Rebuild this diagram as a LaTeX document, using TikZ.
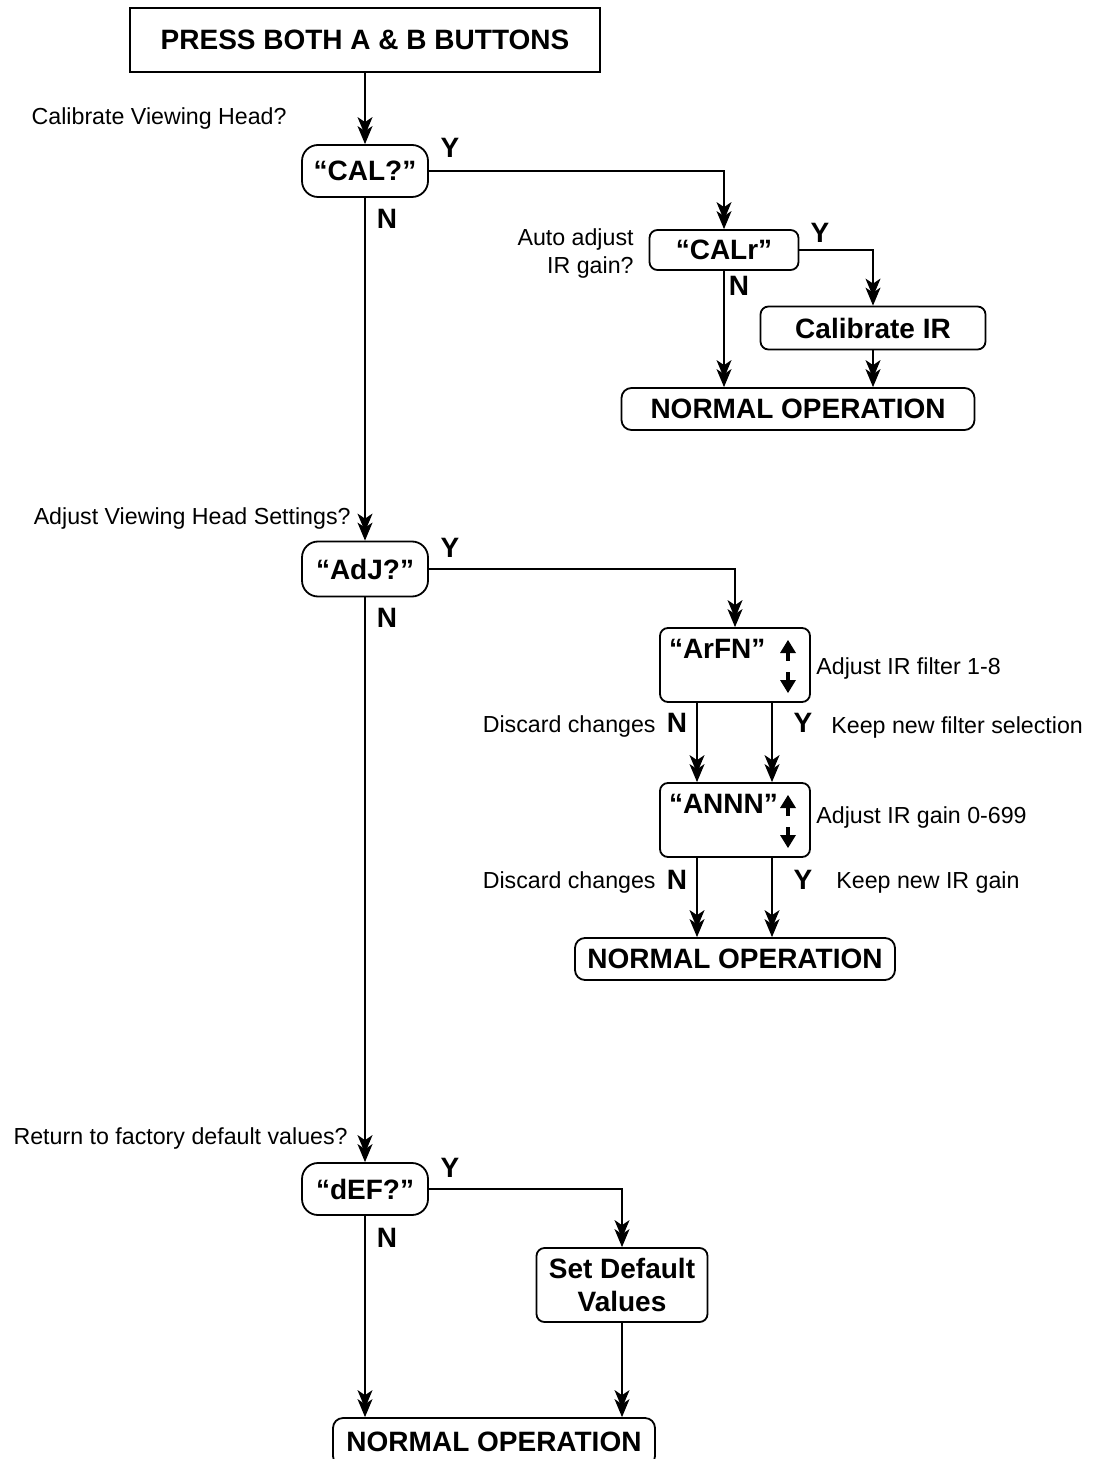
\documentclass[tikz,border=0pt]{standalone}
\usepackage{fontspec}
\setmainfont{Liberation Sans}
\usetikzlibrary{positioning, arrows.meta, calc}
\tikzset{
  >={Stealth[length=9pt,width=7.5pt,inset=2.5pt,sep=-4.5pt] Stealth[length=9pt,width=7.5pt,inset=2.5pt]},
  box/.style={draw, line width=0.9pt, rounded corners=4pt, inner sep=0pt, align=center,
    font=\fontsize{14}{16.5}\selectfont\bfseries},
  decision/.style={box, rounded corners=8pt, minimum width=63pt, minimum height=26pt},
  done/.style={box, rounded corners=5pt, minimum height=21pt},
  note/.style={inner sep=0pt, align=right, font=\fontsize{11.6}{14}\selectfont},
  yn/.style={inner sep=0pt, font=\fontsize{14}{16}\selectfont\bfseries},
  flow/.style={->, line width=0.6pt},
  shaft/.style={line width=1.6pt},
}

\begin{document}
\begin{tikzpicture}[x=0.5pt, y=-0.5pt]
  \useasboundingbox (0,0) rectangle (1092,1459);

  % start
  \node[box, rounded corners=0pt, minimum width=235pt, minimum height=32pt] (press) at (365,40) {PRESS BOTH A \& B BUTTONS};

  % calibrate branch
  \node[decision] (cal) at (365,171) {“CAL?”};
  \node[note, anchor=east] (qcal) at (287,119) {Calibrate Viewing Head?};
  \node[box, minimum width=74.5pt, minimum height=20pt] (calr) at (724,250) {“CALr”};
  \node[note, anchor=east] (qcalr) at (634,254) {Auto adjust\\IR gain?};
  \node[box, minimum width=112.5pt, minimum height=21.5pt] (calir) at (873,328) {Calibrate IR};
  \node[done, minimum width=176.5pt] (norm1) at (798,409) {NORMAL OPERATION};

  \draw[flow] (press) -- (cal);
  \draw[flow] (cal.east) -| (calr.north);
  \draw[flow] (calr.east) -| (calir.north);
  \draw[flow] (calr) -- (calr |- norm1.north);
  \draw[flow] (calir) -- (calir |- norm1.north);
  \node[yn] (ycal) at (450,148) {Y};
  \node[yn] (ncal) at (387,219) {N};
  \node[yn] (ycalr) at (820,233) {Y};
  \node[yn] (ncalr) at (739,286) {N};

  % adjust branch
  \node[decision, minimum height=27.5pt] (adj) at (365,569) {“AdJ?”};
  \node[note, anchor=east] (qadj) at (351,519) {Adjust Viewing Head Settings?};
  \node[box, minimum width=75pt, minimum height=37pt] (arfn) at (735,665) {};
  \node[box, draw=none, anchor=west] (arfntxt) at ($(arfn.north west)+(9,22)$) {“ArFN”};
  \node[note, anchor=west] (narfn) at (816,668) {Adjust IR filter 1-8};
  \node[box, minimum width=75pt, minimum height=37pt] (annn) at (735,820) {};
  \node[box, draw=none, anchor=west] (annntxt) at ($(annn.north west)+(9,22)$) {“ANNN”};
  \node[note, anchor=west] (nannn) at (816,817) {Adjust IR gain 0-699};
  \node[done, minimum width=160pt] (norm2) at (735,959) {NORMAL OPERATION};

  % up and down keys
  \foreach \t in {640,795} {
    \draw[shaft] (788,\t+8) -- (788,\t+21);
    \fill (788,\t) -- (780,\t+13) -- (796,\t+13) -- cycle;
    \draw[shaft] (788,\t+32) -- (788,\t+45);
    \fill (788,\t+53) -- (780,\t+40) -- (796,\t+40) -- cycle;
  }

  \coordinate (arn) at ($(arfn.south)+(-38,0)$);
  \coordinate (ary) at ($(arfn.south)+(37,0)$);
  \coordinate (ann) at ($(annn.south)+(-38,0)$);
  \coordinate (any) at ($(annn.south)+(37,0)$);
  \draw[flow] (cal) -- (adj);
  \draw[flow] (adj.east) -| (arfn.north);
  \draw[flow] (arn) -- (arn |- annn.north);
  \draw[flow] (ary) -- (ary |- annn.north);
  \draw[flow] (ann) -- (ann |- norm2.north);
  \draw[flow] (any) -- (any |- norm2.north);
  \node[yn] (yadj) at (450,548) {Y};
  \node[yn] (nadj) at (387,618) {N};
  \node[yn] (narf) at (677,723) {N};
  \node[yn] (yarf) at (803,723) {Y};
  \node[note, anchor=east] (darf) at (656,726) {Discard changes};
  \node[note, anchor=west] (karf) at (831,727) {Keep new filter selection};
  \node[yn] (nann) at (677,880) {N};
  \node[yn] (yann) at (803,880) {Y};
  \node[note, anchor=east] (dann) at (656,882) {Discard changes};
  \node[note, anchor=west] (kann) at (836,882) {Keep new IR gain};

  % default branch
  \node[decision] (def) at (365,1189) {“dEF?”};
  \node[note, anchor=east] (qdef) at (348,1138) {Return to factory default values?};
  \node[box, minimum width=85.5pt, minimum height=37pt] (setdef) at (622,1285) {Set Default\\Values};
  \node[done, minimum width=161pt, minimum height=24pt] (norm3) at (494,1442) {NORMAL OPERATION};

  \draw[flow] (adj) -- (def);
  \draw[flow] (def.east) -| (setdef.north);
  \draw[flow] (setdef) -- (setdef |- norm3.north);
  \draw[flow] (def) -- (def |- norm3.north);
  \node[yn] (ydef) at (450,1168) {Y};
  \node[yn] (ndef) at (387,1238) {N};
\end{tikzpicture}
\end{document}
